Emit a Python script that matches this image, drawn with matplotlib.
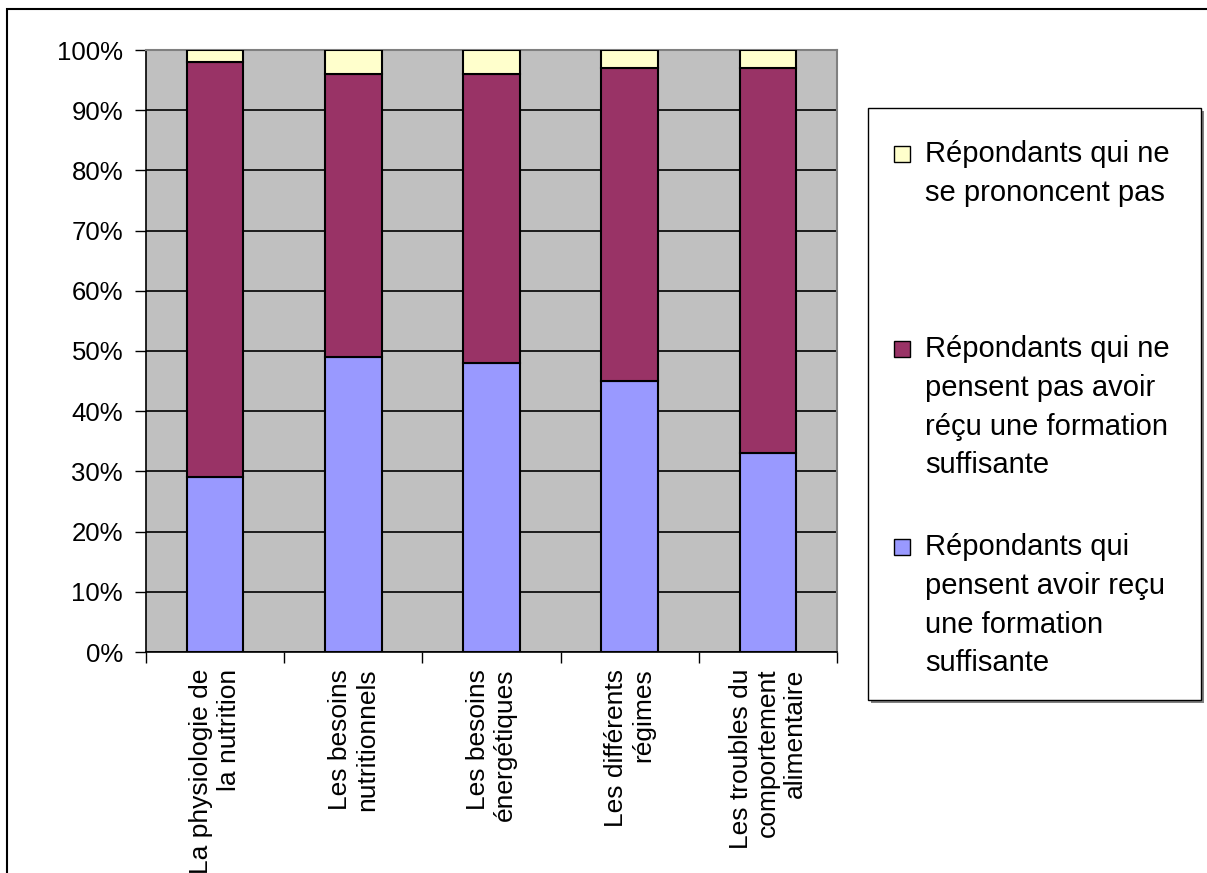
import matplotlib
matplotlib.use('Agg')
import matplotlib.pyplot as plt
from matplotlib.patches import Rectangle
import numpy as np

plt.rcParams['font.family'] = ['Liberation Sans', 'DejaVu Sans']

categories = ["La physiologie de\nla nutrition",
              "Les besoins\nnutritionnels",
              "Les besoins\nénergétiques",
              "Les différents\nrégimes",
              "Les troubles du\ncomportement\nalimentaire"]
oui = [29, 49, 48, 45, 33]
non = [69, 47, 48, 52, 64]
nsp = [2, 4, 4, 3, 3]

labels = ["Répondants qui\npensent avoir reçu\nune formation\nsuffisante",
          "Répondants qui ne\npensent pas avoir\nréçu une formation\nsuffisante",
          "Répondants qui ne\nse prononcent pas"]
colors = ['#9999FF', '#993366', '#FFFFCC']

W, H = 1207, 873
fig = plt.figure(figsize=(12.07, 8.73), dpi=100)
ax = fig.add_axes([146 / W, 1 - 652 / H, (837 - 146) / W, (652 - 50) / H])
ax.set_facecolor('#C0C0C0')

x = np.arange(len(categories))
bottom = np.zeros(len(categories))
for vals, c in zip([oui, non, nsp], colors):
    ax.bar(x, vals, bottom=bottom, width=0.41, color=c, edgecolor='black',
           linewidth=1.5, zorder=3)
    bottom += np.array(vals)

ax.set_xlim(-0.5, len(categories) - 0.5)
ax.set_ylim(0, 100)
ax.set_yticks(range(0, 101, 10))
ax.set_yticklabels([f"{v}%" for v in range(0, 101, 10)], fontsize=18.5)
ax.yaxis.grid(True, color='black', linewidth=1.2, zorder=1)
ax.set_axisbelow(True)
ax.tick_params(axis='y', length=8, width=1, direction='out', pad=8.5)

ax.set_xticks(x)
ax.set_xticklabels(categories, rotation=90, fontsize=19, va='top', ha='center',
                   multialignment='right', linespacing=1.17)
ax.tick_params(axis='x', which='major', length=0, pad=12)
ax.set_xticks(np.arange(-0.5, len(categories)), minor=True)
ax.tick_params(axis='x', which='minor', length=8, width=1, direction='out')

for s in ['top', 'right']:
    ax.spines[s].set_color('#808080')
    ax.spines[s].set_linewidth(1.5)
ax.spines['left'].set_linewidth(1.2)
ax.spines['bottom'].set_linewidth(1.2)

# outer chart border
fig.patches.append(Rectangle((7 / W, -0.1), 1.2, 1.1 - 9 / H, transform=fig.transFigure,
                             fill=False, edgecolor='black', linewidth=1.5))

# legend box with shadow
lx0, ly0, lx1, ly1 = 868, 108, 1201, 700
fig.patches.append(Rectangle(((lx0 + 3) / W, 1 - (ly1 + 3) / H), (lx1 - lx0) / W, (ly1 - ly0) / H,
                             transform=fig.transFigure, facecolor='#808080', edgecolor='none'))
fig.patches.append(Rectangle((lx0 / W, 1 - ly1 / H), (lx1 - lx0) / W, (ly1 - ly0) / H,
                             transform=fig.transFigure, facecolor='white', edgecolor='black',
                             linewidth=1))
baselines = [555, 357, 162]
for lab, c, b in zip(labels, colors, baselines):
    fig.patches.append(Rectangle((894 / W, 1 - b / H), 16 / W, 16 / H,
                                 transform=fig.transFigure, facecolor=c, edgecolor='black',
                                 linewidth=1))
    fig.text(925 / W, 1 - (b - 22) / H, lab, fontsize=21, va='top', ha='left',
             linespacing=1.49)

fig.savefig('out.png', dpi=100)
